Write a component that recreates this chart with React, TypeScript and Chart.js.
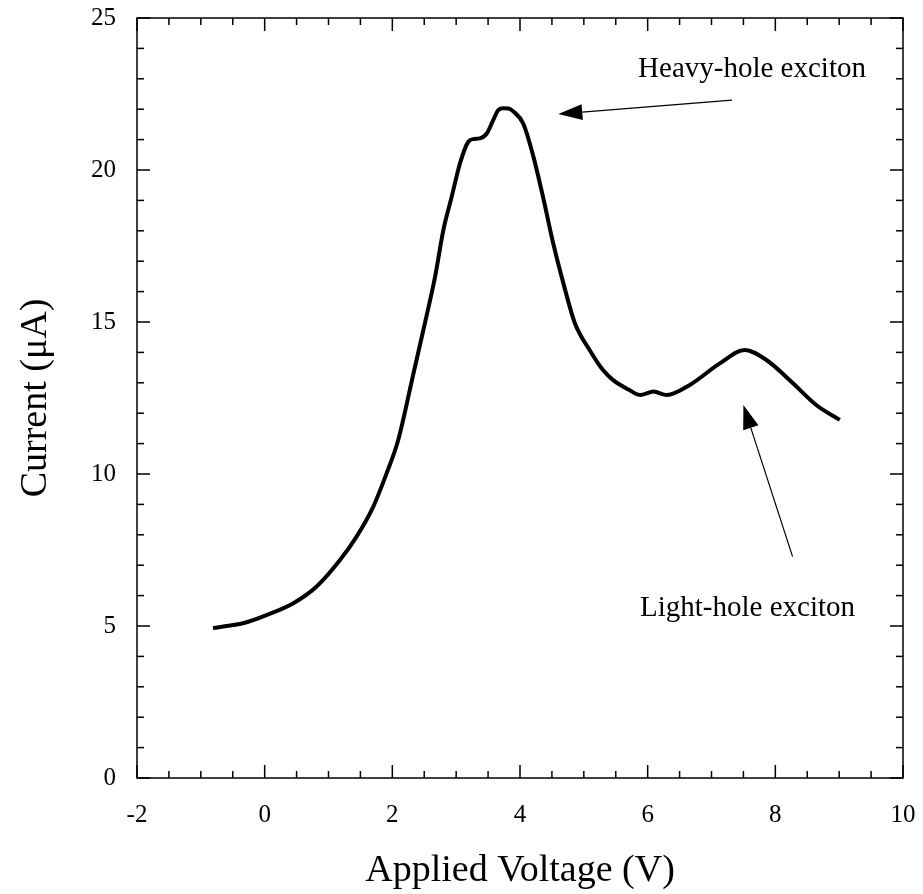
import React, { useEffect, useRef } from "react";
import { Chart, registerables } from "chart.js";

Chart.register(...registerables);

// ---- data ----
const voltage = [
  -0.81, -0.6, -0.34, 0.03, 0.45, 0.81, 1.18, 1.44, 1.7, 1.91, 2.09, 2.33, 2.51,
  2.67, 2.8, 2.93, 3.06, 3.19, 3.28, 3.37, 3.48, 3.58, 3.66, 3.74, 3.82, 3.9,
  4.05, 4.21, 4.36, 4.52, 4.68, 4.86, 5.09, 5.3, 5.46, 5.7, 5.88, 6.09, 6.3,
  6.66, 7.13, 7.52, 7.86, 8.28, 8.64, 9.01,
];
const current = [
  4.93, 5.0, 5.09, 5.36, 5.75, 6.29, 7.17, 7.94, 8.92, 10.02, 11.1, 13.3, 14.96,
  16.49, 18.03, 19.12, 20.22, 20.93, 21.02, 21.04, 21.2, 21.64, 21.97, 22.03,
  22.02, 21.92, 21.53, 20.44, 19.12, 17.59, 16.27, 14.96, 14.08, 13.42, 13.09,
  12.78, 12.6, 12.71, 12.6, 12.93, 13.64, 14.08, 13.75, 12.98, 12.27, 11.78,
];

// axis ranges and tick steps
const xRange = [-2, 10];
const yRange = [0, 25];
const xMajorStep = 2;
const xMinorStep = 0.5;
const yMajorStep = 5;
const yMinorStep = 1;

// annotations (data coordinates)
const annotationLabels = ["Heavy-hole exciton", "Light-hole exciton"];
const annotationLabelX = [5.85, 5.88];
const annotationLabelY = [23.32, 5.575];
const arrowTailX = [7.32, 8.27];
const arrowTailY = [22.3, 7.28];
const arrowTipX = [4.6, 7.5];
const arrowTipY = [21.84, 12.27];

const FONT = "'Liberation Serif', 'Times New Roman', serif";

const framePlugin = {
  id: "frameTicks",
  afterDraw(chart: any) {
    const { ctx, chartArea: a, scales } = chart;
    const x = scales.x;
    const y = scales.y;
    ctx.save();
    ctx.strokeStyle = "#000";
    ctx.lineWidth = 1.5;
    ctx.strokeRect(a.left, a.top, a.right - a.left, a.bottom - a.top);

    const seg = (x1: number, y1: number, x2: number, y2: number) => {
      ctx.beginPath();
      ctx.moveTo(x1, y1);
      ctx.lineTo(x2, y2);
      ctx.stroke();
    };
    const eps = 1e-6;
    const major = 13;
    const minor = 7;
    for (let v = xRange[0]; v <= xRange[1] + eps; v += xMinorStep) {
      const isMajor = Math.abs(v / xMajorStep - Math.round(v / xMajorStep)) < eps;
      const len = isMajor ? major : minor;
      const px = x.getPixelForValue(v);
      seg(px, a.bottom, px, a.bottom - len);
      seg(px, a.top, px, a.top + len);
    }
    for (let v = yRange[0]; v <= yRange[1] + eps; v += yMinorStep) {
      const isMajor = Math.abs(v / yMajorStep - Math.round(v / yMajorStep)) < eps;
      const len = isMajor ? major : minor;
      const py = y.getPixelForValue(v);
      seg(a.left, py, a.left + len, py);
      seg(a.right, py, a.right - len, py);
    }

    // annotations
    ctx.fillStyle = "#000";
    ctx.font = `29px ${FONT}`;
    ctx.textAlign = "left";
    ctx.textBaseline = "middle";
    for (let i = 0; i < annotationLabels.length; i++) {
      ctx.fillText(
        annotationLabels[i],
        x.getPixelForValue(annotationLabelX[i]),
        y.getPixelForValue(annotationLabelY[i])
      );
      const tx = x.getPixelForValue(arrowTailX[i]);
      const ty = y.getPixelForValue(arrowTailY[i]);
      const hx = x.getPixelForValue(arrowTipX[i]);
      const hy = y.getPixelForValue(arrowTipY[i]);
      const ang = Math.atan2(hy - ty, hx - tx);
      const headLen = 24;
      const headHalf = 8;
      const bx = hx - headLen * Math.cos(ang);
      const by = hy - headLen * Math.sin(ang);
      ctx.lineWidth = 1.2;
      seg(tx, ty, bx, by);
      ctx.beginPath();
      ctx.moveTo(hx, hy);
      ctx.lineTo(bx + headHalf * Math.sin(ang), by - headHalf * Math.cos(ang));
      ctx.lineTo(bx - headHalf * Math.sin(ang), by + headHalf * Math.cos(ang));
      ctx.closePath();
      ctx.fill();
    }
    ctx.restore();
  },
};

const zeroPad = (s: any) => {
  s.paddingTop = 0;
  s.paddingBottom = 0;
  s.paddingLeft = 0;
  s.paddingRight = 0;
};

export default function App() {
  const canvasRef = useRef<HTMLCanvasElement | null>(null);

  useEffect(() => {
    if (!canvasRef.current) return;
    const points = voltage.map((v, i) => ({ x: v, y: current[i] }));
    const chart = new Chart(canvasRef.current, {
      type: "line",
      data: {
        datasets: [
          {
            data: points,
            borderColor: "#000",
            borderWidth: 4,
            pointRadius: 0,
            fill: false,
            cubicInterpolationMode: "monotone",
            borderJoinStyle: "round",
          },
        ],
      },
      options: {
        animation: false,
        responsive: true,
        maintainAspectRatio: false,
        layout: { padding: { top: 18, right: 20, left: 0, bottom: 0 } },
        plugins: {
          legend: { display: false },
          tooltip: { enabled: false },
        },
        scales: {
          x: {
            type: "linear",
            min: xRange[0],
            max: xRange[1],
            afterFit: (s: any) => {
              s.height = 116;
              zeroPad(s);
            },
            ticks: {
              stepSize: xMajorStep,
              autoSkip: false,
              maxRotation: 0,
              color: "#000",
              padding: 22,
              font: { family: FONT, size: 25 },
            },
            grid: { display: false, drawTicks: false },
            border: { display: false },
            title: {
              display: true,
              text: "Applied Voltage (V)",
              color: "#000",
              font: { family: FONT, size: 38 },
              padding: { top: 0, bottom: 0 },
            },
          },
          y: {
            type: "linear",
            min: yRange[0],
            max: yRange[1],
            afterFit: (s: any) => {
              s.width = 137;
              zeroPad(s);
            },
            ticks: {
              stepSize: yMajorStep,
              autoSkip: false,
              color: "#000",
              padding: 21,
              font: { family: FONT, size: 25 },
            },
            grid: { display: false, drawTicks: false },
            border: { display: false },
            title: {
              display: true,
              text: "Current (μA)",
              color: "#000",
              font: { family: FONT, size: 38 },
              padding: { top: 13, bottom: 0 },
            },
          },
        },
      },
      plugins: [framePlugin],
    });
    return () => chart.destroy();
  }, []);

  return (
    <div style={{ position: "absolute", left: 0, top: 0, width: 923, height: 894, background: "#fff" }}>
      <canvas ref={canvasRef} />
    </div>
  );
}
